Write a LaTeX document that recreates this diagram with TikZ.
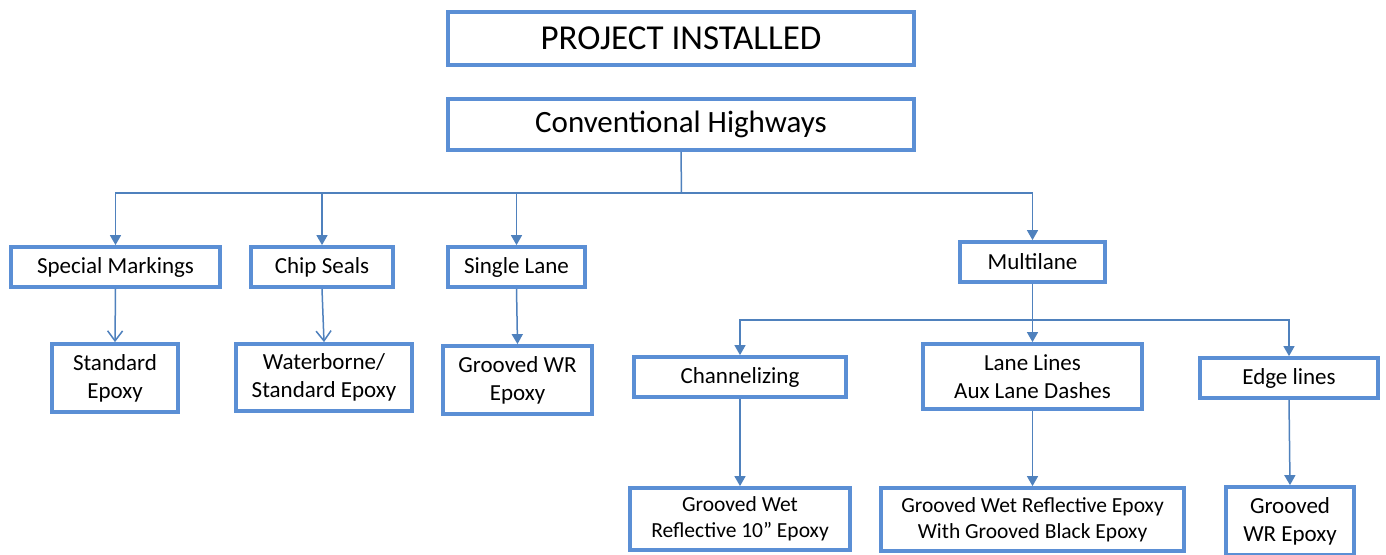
\documentclass[tikz,border=0pt]{standalone}
\usepackage{fontspec}
\setmainfont{Carlito}
\usetikzlibrary{arrows.meta}
\definecolor{boxc}{HTML}{5B8FD5}
\definecolor{linec}{HTML}{4F81BD}
\tikzset{
  box/.style={draw=boxc, line width=3.8pt, fill=white, align=center, inner sep=0pt},
  conn/.style={draw=linec, line width=1.5pt},
  arr/.style={conn, -{Triangle[width=11pt,length=10pt]}},
  oarr/.style={conn, -{Straight Barb[width=15pt,length=10pt,line width=1.5pt]}},
  big/.style={font=\fontsize{35}{40}\selectfont},
  mid/.style={font=\fontsize{23}{28}\selectfont},
  sml/.style={font=\fontsize{21.5}{26}\selectfont},
}
\begin{document}
\begin{tikzpicture}[x=1pt,y=-1pt]
\useasboundingbox[fill=white] (0,0) rectangle (1386,554);
\node[box,big,minimum width=466pt,minimum height=53pt] (top) at (681,38.5) {PROJECT INSTALLED};
\node[box,font=\fontsize{31}{36}\selectfont,minimum width=466pt,minimum height=51pt] (conv) at (681,124.5) {Conventional Highways};
\node[box,mid,minimum width=209pt,minimum height=40pt] (special) at (115.5,267) {Special Markings};
\node[box,mid,minimum width=142pt,minimum height=40pt] (chip) at (322,267) {Chip Seals};
\node[box,mid,minimum width=137pt,minimum height=40pt] (single) at (516.5,267) {Single Lane};
\node[box,mid,minimum width=145pt,minimum height=40pt] (multi) at (1032.5,262) {Multilane};
\node[box,mid,minimum width=126pt,minimum height=68pt] (std) at (115,378) {Standard\\Epoxy};
\node[box,mid,minimum width=176pt,minimum height=67pt] (water) at (324,377.5) {Waterborne/\\Standard Epoxy};
\node[box,mid,minimum width=149pt,minimum height=68pt] (gwr) at (517.5,380) {Grooved WR\\Epoxy};
\node[box,mid,minimum width=212pt,minimum height=40pt] (channel) at (740,377) {Channelizing};
\node[box,mid,minimum width=219pt,minimum height=65pt] (lane) at (1032.5,376.5) {Lane Lines\\Aux Lane Dashes};
\node[box,mid,minimum width=178pt,minimum height=40pt] (edge) at (1289,378) {Edge lines};
\node[box,sml,minimum width=220pt,minimum height=62pt] (gw10) at (740,519) {Grooved Wet\\Reflective 10” Epoxy};
\node[box,sml,minimum width=303pt,minimum height=63pt] (gwblack) at (1032.5,519.5) {Grooved Wet Reflective Epoxy\\With Grooved Black Epoxy};
\node[box,mid,minimum width=128pt,minimum height=68pt] (gwr2) at (1290,521) {Grooved\\WR Epoxy};
\coordinate (bus1) at (681.5,193);
\coordinate (bus2) at (1033,320);
\draw[conn] (conv.south) -- (bus1);
\draw[arr] (bus1) -| (special.north);
\draw[arr] (bus1) -| (chip.north);
\draw[arr] (bus1) -| (single.north);
\draw[arr] (bus1) -| (multi.north);
\draw[arr] (multi.south) -- (lane.north);
\draw[arr] (bus2) -| (channel.north);
\draw[arr] (bus2) -| (edge.north);
\draw[oarr] (special.south) -- (std.north);
\draw[oarr] (chip.south) -- (water.north);
\draw[arr] (single.south) -- (gwr.north);
\draw[arr] (channel.south) -- (gw10.north);
\draw[arr] (lane.south) -- (gwblack.north);
\draw[arr] (edge.south) -- (gwr2.north);
\end{tikzpicture}
\end{document}
